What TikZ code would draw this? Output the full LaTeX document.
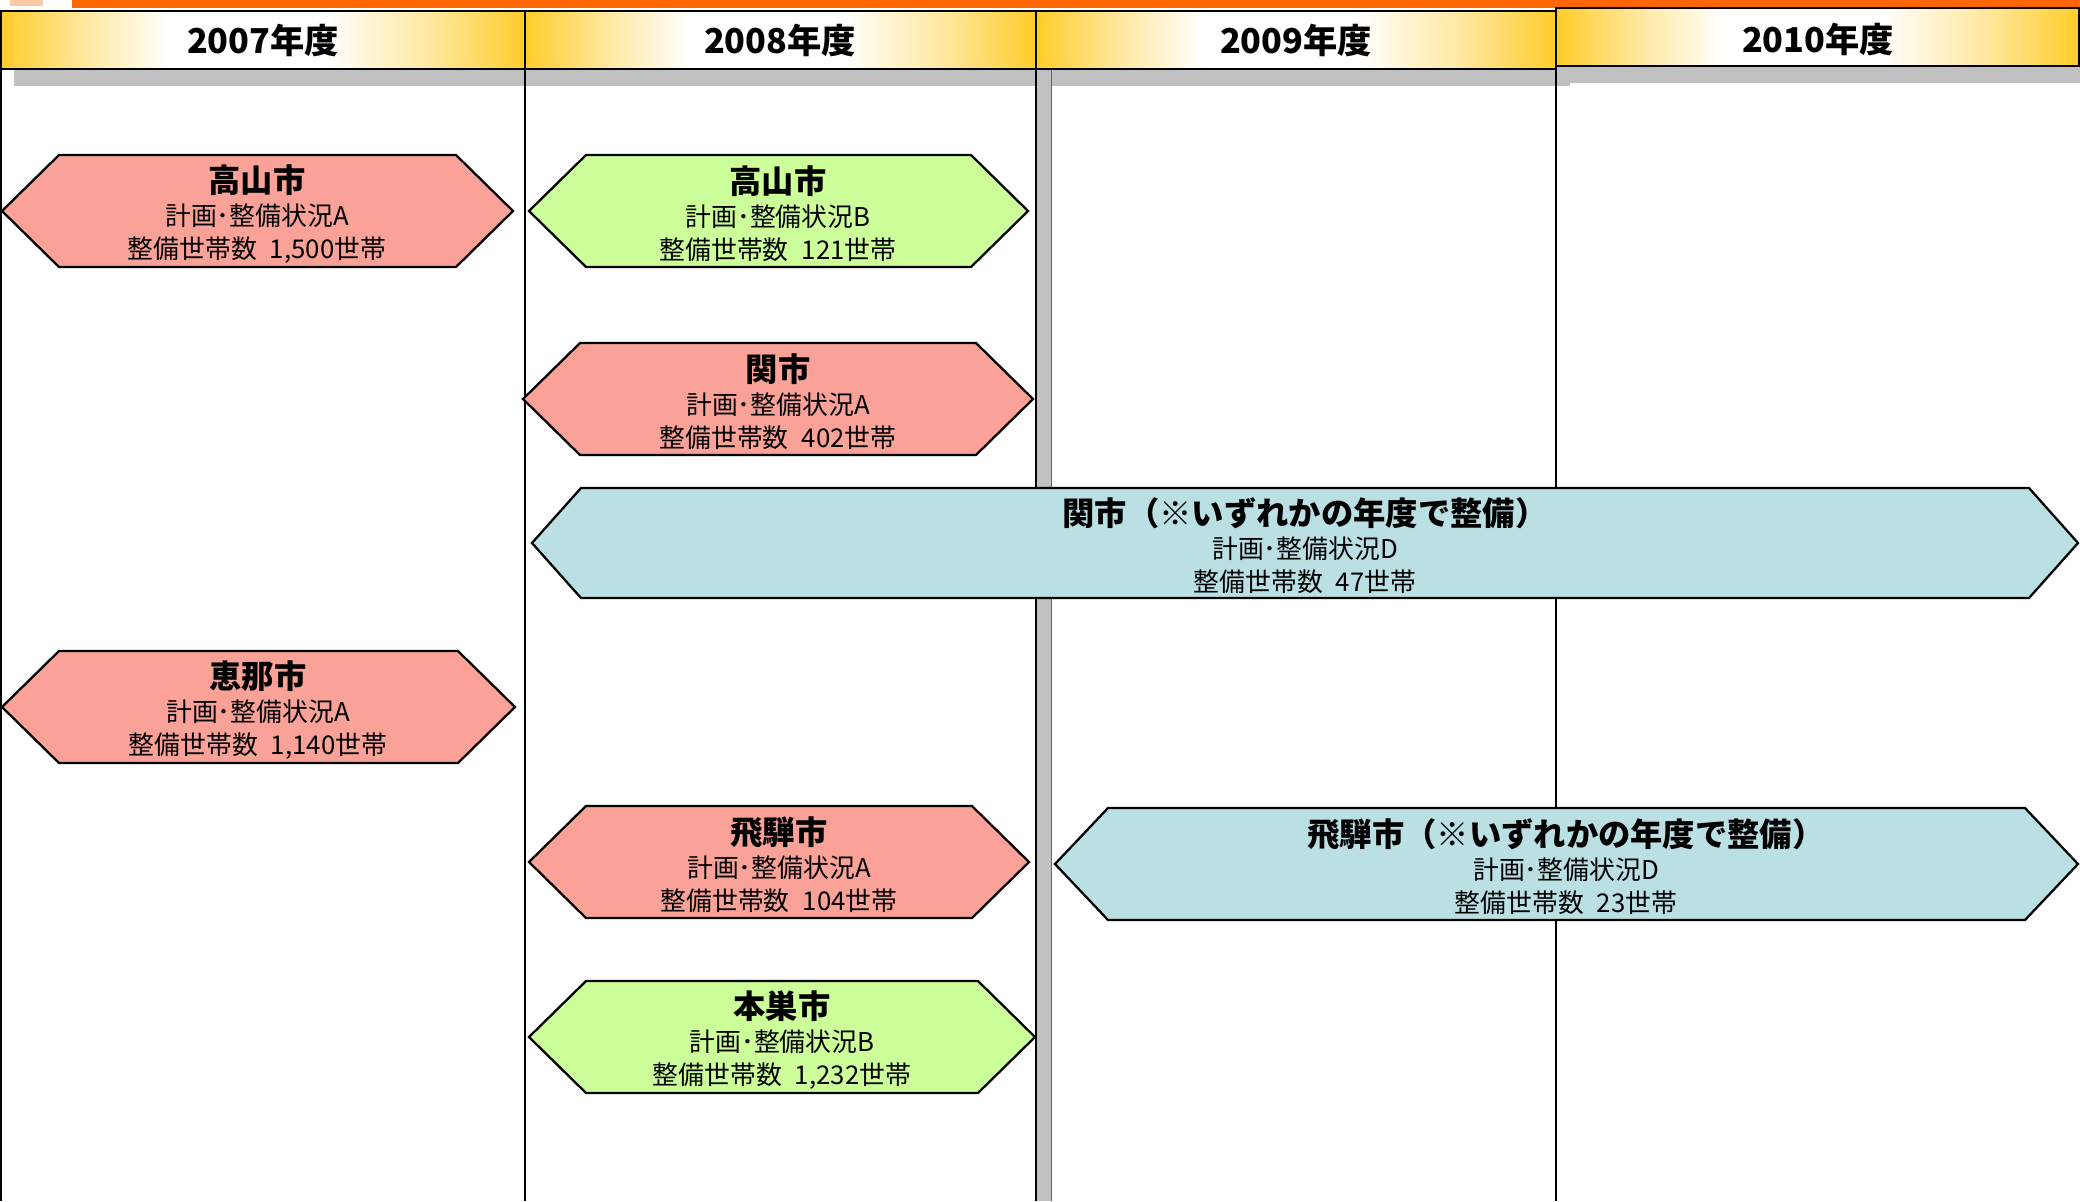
\documentclass[tikz,border=0pt]{standalone}
\usepackage{fontspec}
\setmainfont{Noto Sans CJK JP}

\definecolor{hdrgold}{RGB}{255,204,41}
\definecolor{barorange}{RGB}{255,102,0}
\definecolor{shadowgrey}{RGB}{192,192,192}
\definecolor{pinkfill}{RGB}{250,162,152}
\definecolor{greenfill}{RGB}{204,255,153}
\definecolor{bluefill}{RGB}{187,224,227}

\pgfdeclarehorizontalshading{yearband}{100bp}{color(0bp)=(hdrgold); color(25bp)=(hdrgold); color(33bp)=(hdrgold!45!white); color(41bp)=(white); color(56bp)=(white); color(66bp)=(hdrgold!45!white); color(75bp)=(hdrgold); color(100bp)=(hdrgold)}

\tikzset{
  yearcell/.style={draw=black, line width=1.5pt, shade, shading=yearband},
  yeartext/.style={font=\fontsize{19.5}{22}\selectfont\bfseries},
  colline/.style={line width=1.1pt},
  hexline/.style={draw=black, line width=1.3pt, line join=miter},
  hextext/.style={align=center, font=\fontsize{14.7}{18.8}\selectfont},
}
\newcommand{\cityname}[1]{{\fontsize{18.4}{18.8}\selectfont\bfseries #1}}

\begin{document}
\begin{tikzpicture}[x=0.02cm, y=-0.02cm]
\useasboundingbox (0,0) rectangle (2080,1201);

% top bar
\fill[barorange!35] (10,0) rectangle (43,6);
\fill[barorange] (72,0) rectangle (2080,8);

% shadows of the year cells
\fill[shadowgrey] (14,28) rectangle (539,86);
\fill[shadowgrey] (539,28) rectangle (1050,86);
\fill[shadowgrey] (1050,28) rectangle (1570,86);
\fill[shadowgrey] (1570,25) rectangle (2080,83);

% columns
\draw[colline] (1,69) -- (1,1201);
\draw[colline] (525,69) -- (525,1201);
\fill[shadowgrey] (1037,69) rectangle (1051,1201);
\draw[colline] (1036,69) -- (1036,1201);
\draw[line width=.5pt, black!60] (1051,69) -- (1051,1201);
\draw[colline] (1556,66) -- (1556,1201);

% year cells
\draw[yearcell] (1,11) rectangle (525,69);
\draw[yearcell] (525,11) rectangle (1036,69);
\draw[yearcell] (1036,11) rectangle (1556,69);
\draw[yearcell] (1556,8) rectangle (2079,66);

\node[yeartext] (y2007) at (263,40) {2007年度};
\node[yeartext] (y2008) at (780,40) {2008年度};
\node[yeartext] (y2009) at (1296,40) {2009年度};
\node[yeartext] (y2010) at (1818,39) {2010年度};

% 2007
\draw[hexline, fill=pinkfill] (2,211) -- ++(57,-56) -- ++(397,0) -- ++(57,56) -- ++(-57,56) -- ++(-397,0) -- cycle;
\node[hextext] (takayamaA) at (257,214) {\cityname{高山市}\\計画･整備状況A\\整備世帯数\hspace{.5em}1,500世帯};

\draw[hexline, fill=pinkfill] (2,707) -- ++(57,-56) -- ++(399,0) -- ++(57,56) -- ++(-57,56) -- ++(-399,0) -- cycle;
\node[hextext] (enaA) at (258,710) {\cityname{恵那市}\\計画･整備状況A\\整備世帯数\hspace{.5em}1,140世帯};

% 2008
\draw[hexline, fill=greenfill] (529,211) -- ++(57,-56) -- ++(385,0) -- ++(57,56) -- ++(-57,56) -- ++(-385,0) -- cycle;
\node[hextext] (takayamaB) at (778,214) {\cityname{高山市}\\計画･整備状況B\\整備世帯数\hspace{.5em}121世帯};

\draw[hexline, fill=pinkfill] (523,399) -- ++(57,-56) -- ++(396,0) -- ++(57,56) -- ++(-57,56) -- ++(-396,0) -- cycle;
\node[hextext] (sekiA) at (778,402) {\cityname{関市}\\計画･整備状況A\\整備世帯数\hspace{.5em}402世帯};

\draw[hexline, fill=pinkfill] (529,862) -- ++(57,-56) -- ++(386,0) -- ++(57,56) -- ++(-57,56) -- ++(-386,0) -- cycle;
\node[hextext] (hidaA) at (779,865) {\cityname{飛騨市}\\計画･整備状況A\\整備世帯数\hspace{.5em}104世帯};

\draw[hexline, fill=greenfill] (529,1037) -- ++(57,-56) -- ++(392,0) -- ++(57,56) -- ++(-57,56) -- ++(-392,0) -- cycle;
\node[hextext] (motosuB) at (782,1040) {\cityname{本巣市}\\計画･整備状況B\\整備世帯数\hspace{.5em}1,232世帯};

% any year
\draw[hexline, fill=bluefill] (532,543) -- ++(49,-55) -- ++(1448,0) -- ++(49,55) -- ++(-49,55) -- ++(-1448,0) -- cycle;
\node[hextext] (sekiD) at (1305,546) {\cityname{関市（※いずれかの年度で整備）}\\計画･整備状況D\\整備世帯数\hspace{.5em}47世帯};

\draw[hexline, fill=bluefill] (1055,864) -- ++(53,-56) -- ++(917,0) -- ++(53,56) -- ++(-53,56) -- ++(-917,0) -- cycle;
\node[hextext] (hidaD) at (1566,867) {\cityname{飛騨市（※いずれかの年度で整備）}\\計画･整備状況D\\整備世帯数\hspace{.5em}23世帯};

\end{tikzpicture}
\end{document}
